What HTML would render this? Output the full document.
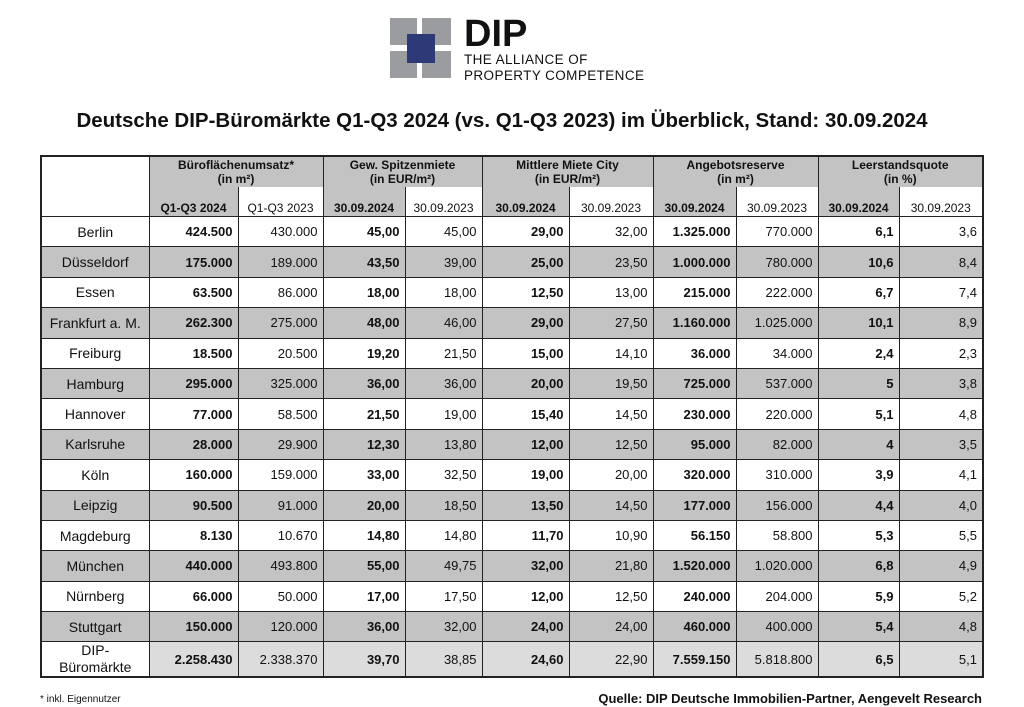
<!DOCTYPE html>
<html><head><meta charset="utf-8">
<style>
body{margin:0;width:1024px;height:707px;background:#fff;font-family:"Liberation Sans",Arial,sans-serif;position:relative;overflow:hidden;color:#111}
.logo{position:absolute;left:390px;top:17px}
.title{position:absolute;left:-10px;width:1024px;top:109px;text-align:center;font-size:20.5px;font-weight:bold}
table{position:absolute;left:40px;top:155px;border-collapse:collapse;table-layout:fixed;border:2px solid #222}
td{border:1px solid #222;padding:0 5px;font-size:13px;text-align:right;height:29.4px}
td.c{text-align:center;font-size:14px}
.g td{background:#c3c3c3}
td.h{background:#c3c3c3;font-weight:bold;text-align:center;font-size:12px;vertical-align:top;padding-top:1px;border-bottom:none;height:29px}
td.s{font-size:12px;text-align:center;vertical-align:bottom;padding-bottom:1px;border-top:none;height:28px}
td.sg{background:#c3c3c3;font-weight:bold}
b{font-weight:bold}
.last td{background:#dcdcdc;height:33px}
.last td.c{background:#fff;line-height:17px}
.fn{position:absolute;left:40px;top:694px;font-size:10px}
.src{position:absolute;right:42px;top:691px;font-size:13px;font-weight:bold}
</style></head><body>
<svg class="logo" width="260" height="66" viewBox="0 0 260 66">
<rect x="0" y="1" width="27" height="27" fill="#9b9ca0"/><rect x="32" y="1" width="29" height="27" fill="#9b9ca0"/>
<rect x="0" y="34" width="27" height="27" fill="#9b9ca0"/><rect x="32" y="34" width="29" height="27" fill="#9b9ca0"/>
<rect x="17" y="17" width="28" height="29" fill="#2e3a78"/>
<text x="74" y="29" font-family="Liberation Sans" font-weight="bold" font-size="38" fill="#111">DIP</text>
<text x="74" y="47" font-family="Liberation Sans" font-size="13.5" fill="#111" letter-spacing="0.4">THE ALLIANCE OF</text>
<text x="74" y="63" font-family="Liberation Sans" font-size="13.5" fill="#111" letter-spacing="0.4">PROPERTY COMPETENCE</text>
</svg>
<div class="title">Deutsche DIP-Büromärkte Q1-Q3 2024 (vs. Q1-Q3 2023) im Überblick, Stand: 30.09.2024</div>
<table>
<colgroup><col style="width:108px"><col style="width:89px"><col style="width:85px"><col style="width:82px"><col style="width:77px"><col style="width:87px"><col style="width:84px"><col style="width:83px"><col style="width:82px"><col style="width:81px"><col style="width:84px"></colgroup>
<tr><td rowspan="2"></td>
<td class="h" colspan="2">Büroflächenumsatz*<br>(in m²)</td>
<td class="h" colspan="2">Gew. Spitzenmiete<br>(in EUR/m²)</td>
<td class="h" colspan="2">Mittlere Miete City<br>(in EUR/m²)</td>
<td class="h" colspan="2">Angebotsreserve<br>(in m²)</td>
<td class="h" colspan="2">Leerstandsquote<br>(in %)</td></tr>
<tr><td class="s sg">Q1-Q3 2024</td><td class="s">Q1-Q3 2023</td><td class="s sg">30.09.2024</td><td class="s">30.09.2023</td><td class="s sg">30.09.2024</td><td class="s">30.09.2023</td><td class="s sg">30.09.2024</td><td class="s">30.09.2023</td><td class="s sg">30.09.2024</td><td class="s">30.09.2023</td></tr>
<tbody id="tb"></tbody>
</table>
<div class="fn">* inkl. Eigennutzer</div>
<div class="src">Quelle: DIP Deutsche Immobilien-Partner, Aengevelt Research</div>
<script>
const cities=["Berlin","Düsseldorf","Essen","Frankfurt a. M.","Freiburg","Hamburg","Hannover","Karlsruhe","Köln","Leipzig","Magdeburg","München","Nürnberg","Stuttgart"];
const umsatz24=["424.500","175.000","63.500","262.300","18.500","295.000","77.000","28.000","160.000","90.500","8.130","440.000","66.000","150.000"];
const umsatz23=["430.000","189.000","86.000","275.000","20.500","325.000","58.500","29.900","159.000","91.000","10.670","493.800","50.000","120.000"];
const spitze24=["45,00","43,50","18,00","48,00","19,20","36,00","21,50","12,30","33,00","20,00","14,80","55,00","17,00","36,00"];
const spitze23=["45,00","39,00","18,00","46,00","21,50","36,00","19,00","13,80","32,50","18,50","14,80","49,75","17,50","32,00"];
const mittel24=["29,00","25,00","12,50","29,00","15,00","20,00","15,40","12,00","19,00","13,50","11,70","32,00","12,00","24,00"];
const mittel23=["32,00","23,50","13,00","27,50","14,10","19,50","14,50","12,50","20,00","14,50","10,90","21,80","12,50","24,00"];
const angebot24=["1.325.000","1.000.000","215.000","1.160.000","36.000","725.000","230.000","95.000","320.000","177.000","56.150","1.520.000","240.000","460.000"];
const angebot23=["770.000","780.000","222.000","1.025.000","34.000","537.000","220.000","82.000","310.000","156.000","58.800","1.020.000","204.000","400.000"];
const leer24=["6,1","10,6","6,7","10,1","2,4","5","5,1","4","3,9","4,4","5,3","6,8","5,9","5,4"];
const leer23=["3,6","8,4","7,4","8,9","2,3","3,8","4,8","3,5","4,1","4,0","5,5","4,9","5,2","4,8"];
const total=["2.258.430","2.338.370","39,70","38,85","24,60","22,90","7.559.150","5.818.800","6,5","5,1"];
const tb=document.getElementById('tb');
function addRow(name,vals,cls){
  const tr=document.createElement('tr');
  
  
  if(cls)tr.className=cls;
  let h='<td class="c">'+name+'</td>';
  vals.forEach((v,i)=>{h+='<td>'+(i%2==0?'<b>'+v+'</b>':v)+'</td>';});
  tr.innerHTML=h;tb.appendChild(tr);
}
cities.forEach((c,i)=>addRow(c,[umsatz24[i],umsatz23[i],spitze24[i],spitze23[i],mittel24[i],mittel23[i],angebot24[i],angebot23[i],leer24[i],leer23[i]],i%2?'g':''));
addRow('DIP-<br>Büromärkte',total,'last');
</script>
</body></html>
